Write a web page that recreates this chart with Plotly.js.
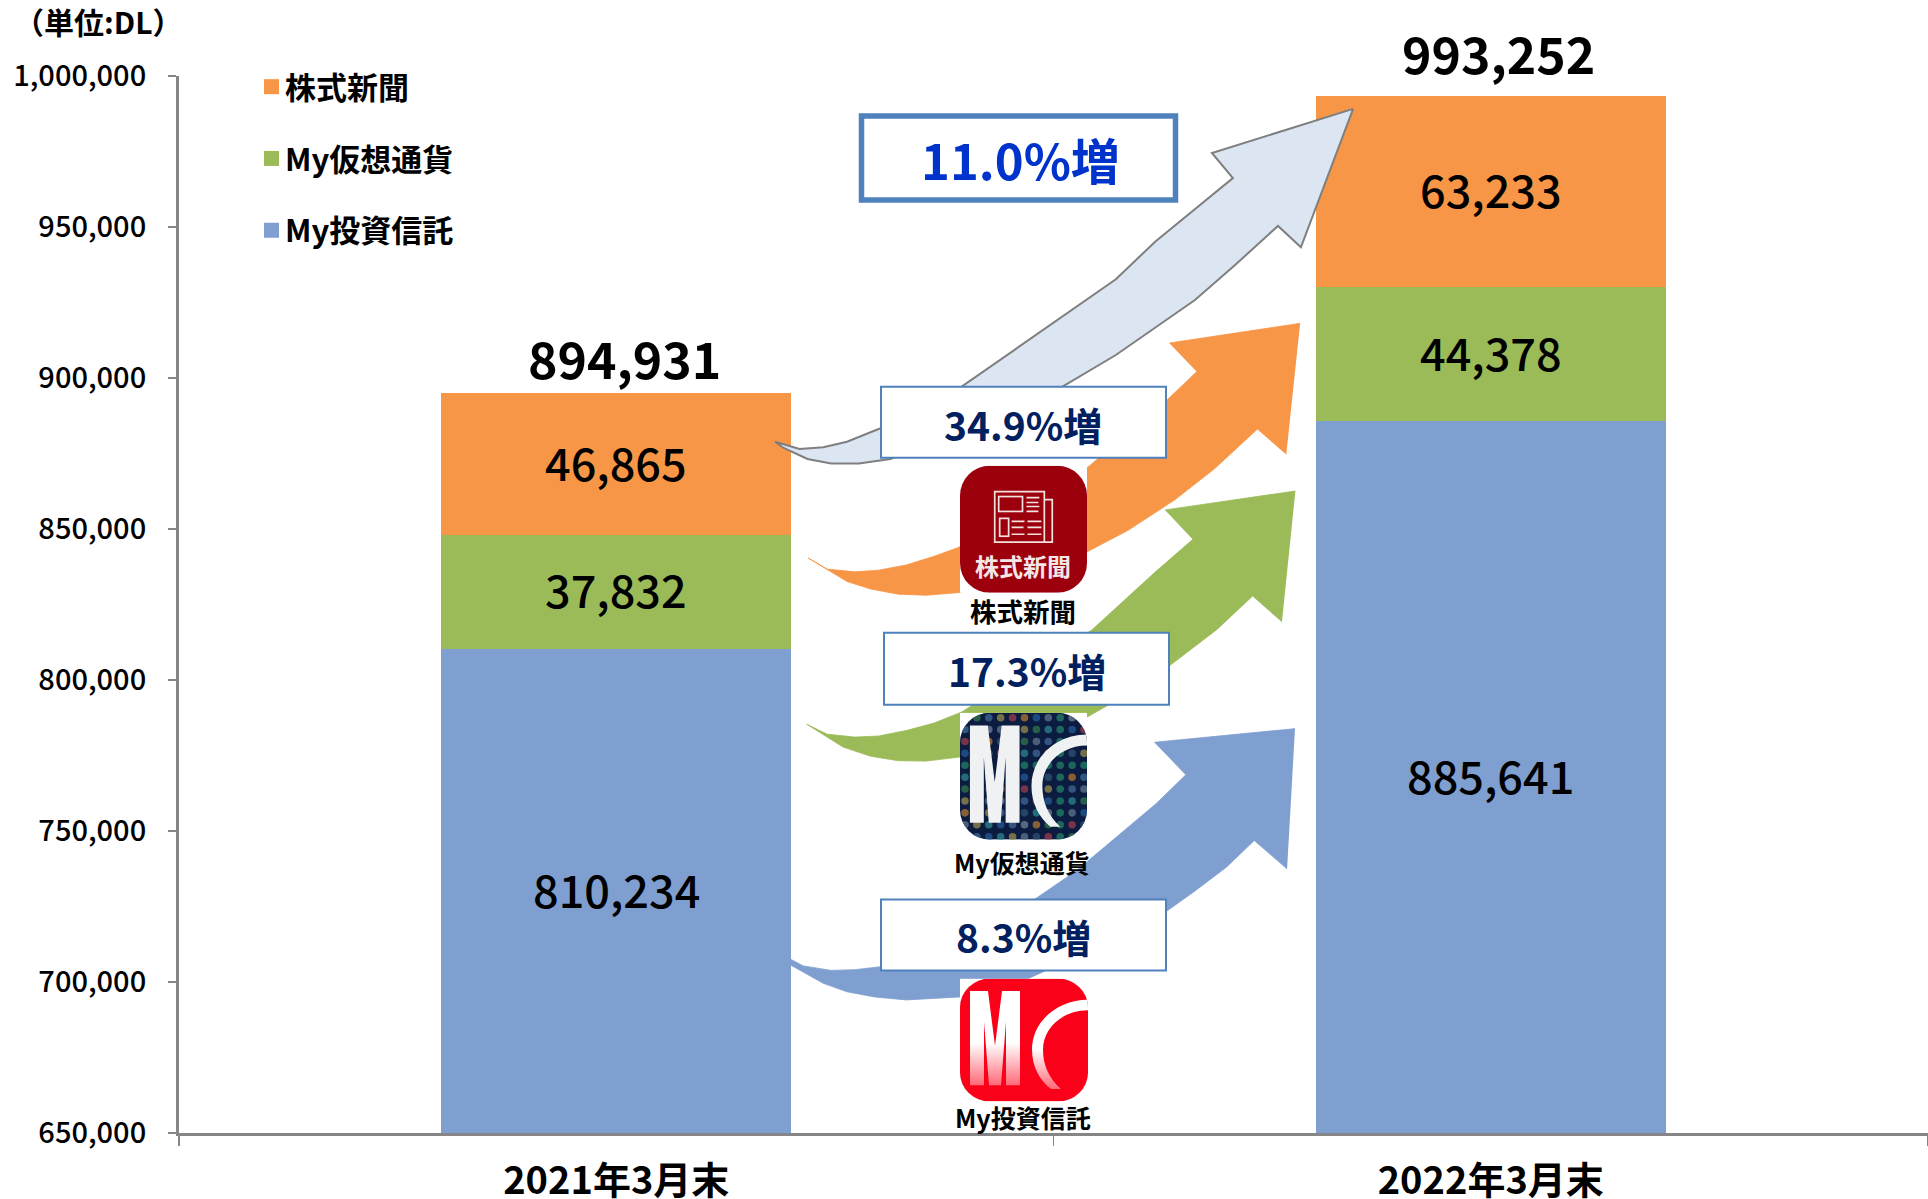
<!DOCTYPE html>
<html><head><meta charset="utf-8">
<script src="https://cdn.plot.ly/plotly-3.0.1.min.js"></script>
<style>html,body{margin:0;padding:0;background:#fff}#c{width:1928px;height:1199px}</style>
</head><body><div id="c"></div>
<script>
const categories = ['2021年3月末', '2022年3月末'];
const investTrust = [810234, 885641];
const cryptoApp = [37832, 44378];
const stockNews = [46865, 63233];
const totals = [894931, 993252];
const seriesNames = ['My投資信託', 'My仮想通貨', '株式新聞'];
const seriesColors = ['#7f9fd0', '#9bbb59', '#f79646'];
const yTicks = [650000, 700000, 750000, 800000, 850000, 900000, 950000, 1000000];
const growthLabels = ['11.0%増', '34.9%増', '17.3%増', '8.3%増'];
const appLabels = ['株式新聞', 'My仮想通貨', 'My投資信託'];

const W = 1928, H = 1199, L = 179, T = 76, B = 1133.5;
const AXIS_MIN = yTicks[0];
const FONT = "'Noto Sans CJK JP','Noto Sans CJK SC',sans-serif";
const fmt = v => v.toLocaleString('en-US');
const px = x => (x - L) / (W - L);
const py = y => (B - y) / (B - T);
const Z2 = ([x, y]) => [760 + x / 2.529, 90 + y / 2.904];
const Z3 = ([x, y]) => [760 + x / 2.529, 620 + y / 2.708];

const arrowLight = [[1500,55],[1143,183],[1196,256],[1100,345],[1000,440],[900,550],[750,670],[600,790],[510,862],[300,985],[220,1022],[160,1038],[100,1043],[38,1022],[60,1040],[120,1072],[180,1085],[250,1085],[330,1072],[765,862],[900,770],[1000,690],[1100,610],[1200,510],[1310,395],[1368,457],[1500,55]].map(Z2);
const arrowOrange = [[1366,678],[1036,735],[1105,818],[1030,900],[830,1095],[500,1330],[440,1355],[370,1380],[300,1395],[240,1400],[170,1392],[122,1360],[220,1428],[280,1450],[350,1465],[420,1468],[505,1460],[830,1340],[930,1280],[1050,1190],[1150,1100],[1258,985],[1331,1058]].map(Z2);
const arrowGreen = [[1354,1165],[1025,1220],[1095,1305],[1000,1400],[840,1568]].map(Z2)
  .concat([[510,250],[440,280],[370,300],[300,315],[240,318],[170,310],[118,283],[210,345],[280,370],[350,382],[420,383],[505,372],[830,262],[880,232],[1035,125]].map(Z3))
  .concat([[1155,1568],[1246,1470],[1320,1545]].map(Z2));
const arrowBlue = [[1353,295],[998,332],[1077,420],[1000,500],[900,590],[800,680],[695,757],[305,940],[240,948],[180,950],[110,938],[60,910],[60,925],[160,985],[220,1008],[290,1022],[370,1030],[505,1022],[620,1000],[720,952],[1028,790],[1100,735],[1180,670],[1250,598],[1333,675]].map(Z3);

function arrowTrace(pts, fill, line) {
  return {type:'scatter', xaxis:'x2', yaxis:'y2', mode:'lines', x:pts.map(p=>p[0]), y:pts.map(p=>p[1]),
    fill:'toself', fillcolor:fill, line:{color:line||fill, width:line?2:0.8}, hoverinfo:'skip', showlegend:false};
}
function barTrace(i, vals) {
  return {type:'bar', name:seriesNames[i], x:categories, y:vals, legendgroup:seriesNames[i], legendrank:3-i,
    marker:{color:seriesColors[i], line:{width:0}}, hoverinfo:'skip'};
}
const data = [barTrace(0,investTrust), barTrace(1,cryptoApp), barTrace(2,stockNews),
  arrowTrace(arrowLight,'#dce6f2','#7f7f7f'), arrowTrace(arrowOrange,'#f79646'), arrowTrace(arrowGreen,'#9bbb59'), arrowTrace(arrowBlue,'#7f9fd0')];

function note(text, x, y, size, color, opts) {
  return Object.assign({xref:'paper', yref:'paper', x:px(x), y:py(y), text, showarrow:false, xanchor:'center', yanchor:'middle',
    font:{family:FONT, size, color, weight:700}}, opts||{});
}
const annotations = [
  note('（単位:DL）', 98, 21, 30, '#000'),
  note(growthLabels[0], 1020, 158.5, 49, '#0033cc'),
  note(growthLabels[1], 1023, 424.5, 39, '#002060'),
  note(growthLabels[2], 1027, 670.5, 39, '#002060'),
  note(growthLabels[3], 1023, 936.5, 39, '#002060'),
  note(appLabels[0], 1023, 610.5, 26.5, '#000'),
  note(appLabels[1], 1022, 862, 25, '#000'),
  note(appLabels[2], 1023, 1117, 25, '#000'),
  note('株式新聞', 1023, 566, 24, '#f4e6e6'),
];
const totalShift = [-2, 6.5];
totals.forEach((v,i)=>annotations.push({xref:'x', yref:'y', x:categories[i], y:v, text:fmt(v), showarrow:false, xanchor:'center', yanchor:'bottom', xshift:8, yshift:totalShift[i],
  font:{family:FONT, size:50, color:'#000', weight:700}}));
// value labels sit at the middle of the visible part of each stacked segment
categories.forEach((c,i)=>{
  let base = AXIS_MIN;
  [investTrust, cryptoApp, stockNews].forEach((vals,s)=>{
    const top = s===0 ? vals[i] : base + vals[i];
    annotations.push({xref:'x', yref:'y', x:c, y:(base+top)/2, text:fmt(vals[i]), showarrow:false, xanchor:'center', yanchor:'middle', yshift:3,
      font:{family:FONT, size:45, color:'#000', weight:500}});
    base = top;
  });
});

function box(x0,y0,x1,y1,w){
  return {type:'rect', xref:'paper', yref:'paper', x0:px(x0), x1:px(x1), y0:py(y0), y1:py(y1), fillcolor:'#fff', line:{color:'#4f81bd', width:w}, layer:'above'};
}
const shapes = [box(861.5,116,1175.5,200,5.5), box(881,387,1166,458,2), box(884,633,1169,705,2), box(881,900,1166,971,2)];

function svgUri(s){ return 'data:image/svg+xml;charset=utf-8,' + encodeURIComponent(s); }
const mPath = 'M10,13H28L35,70L42,13H60V111H46V45L41,111H29L24,45V111H10Z';
const cPath = 'M128,22C98,22 72,44 72,74C72,92 80,106 91,115L101,115C89,104 83,90 83,74C83,52 102,33 128,33Z';
function frame(inner){
  return `<svg xmlns="http://www.w3.org/2000/svg" width="256" height="256" viewBox="0 0 128 128"><rect width="128" height="128" fill="#fff"/>${inner}</svg>`;
}
const newsIcon = frame(`<rect width="128" height="128" rx="30" fill="#9c000d"/>
<g fill="none" stroke="#f3e3e0" stroke-width="1.7"><path d="M35,26H85V77H35ZM85,34H93V77H85"/><rect x="39" y="31" width="24" height="15"/><rect x="40" y="53" width="9" height="18"/>
<path d="M67,32H80M67,37H79M67,41H80M67,46H79M52,56H65M52,62H64M52,69H65M68,56H82M68,62H82M68,69H82"/></g>`);
const dotColors = ['#2c4f6e','#1f7a62','#a8702f','#3f6390','#2b8088','#5a6f88','#96384a','#2e6f4a','#6a7a90','#1f5590','#8f8448'];
let dots = '';
for (let r=0;r<11;r++) for (let c=0;c<11;c++) {
  dots += `<circle cx="${5+c*12}" cy="${5+r*12}" r="3.8" fill="${dotColors[(r*3+c*7+r*c)%dotColors.length]}" opacity="0.8"/>`;
}
const cryptoIcon = frame(`<defs><clipPath id="k"><rect width="128" height="128" rx="30"/></clipPath></defs><g clip-path="url(#k)"><rect width="128" height="128" fill="#0b1c40"/>${dots}
<path d="${mPath}" fill="#f0f1f2"/><path d="${cPath}" fill="#f0f1f2"/></g>`);
const fundIcon = frame(`<defs><clipPath id="r"><rect width="128" height="128" rx="30"/></clipPath>
<linearGradient id="g" x1="0" y1="0" x2="0" y2="1"><stop offset="0" stop-color="#fff"/><stop offset="0.55" stop-color="#fff"/><stop offset="1" stop-color="#ff6a78"/></linearGradient></defs>
<g clip-path="url(#r)"><rect width="128" height="128" fill="#fb0019"/><path d="${mPath}" fill="url(#g)"/><path d="${cPath}" fill="url(#g)"/></g>`);
function img(src,x0,y0,x1,y1){
  return {source:svgUri(src), xref:'paper', yref:'paper', x:px(x0), y:py(y0), sizex:px(x1)-px(x0), sizey:py(y0)-py(y1), xanchor:'left', yanchor:'top', sizing:'stretch', layer:'above'};
}
const images = [img(newsIcon,960,466,1087,593), img(cryptoIcon,960,713,1087,840), img(fundIcon,960,979,1088,1102)];

const layout = {
  width:W, height:H, paper_bgcolor:'#fff', plot_bgcolor:'#fff',
  margin:{l:L, r:0, t:T, b:H-B, pad:0, autoexpand:false},
  barmode:'stack', bargap:0.6, hovermode:false, font:{family:FONT, color:'#000'},
  xaxis:{type:'category', categoryorder:'array', categoryarray:categories, tickson:'boundaries', ticks:'outside', ticklen:10, tickwidth:1.5, tickcolor:'#868686',
    showline:true, linecolor:'#868686', linewidth:3, showgrid:false, zeroline:false, tickfont:{family:FONT, size:38, color:'#000', weight:700}, ticklabelstandoff:12},
  yaxis:{range:[AXIS_MIN,1000000], tickmode:'array', tickvals:yTicks, ticktext:yTicks.map(fmt), ticks:'outside', ticklen:8, tickwidth:1.5, tickcolor:'#868686',
    showline:true, linecolor:'#868686', linewidth:3, showgrid:false, zeroline:false, tickfont:{family:FONT, size:29, color:'#000', weight:500}, ticklabelstandoff:16},
  xaxis2:{overlaying:'x', range:[L,W], visible:false, fixedrange:true},
  yaxis2:{overlaying:'y', range:[B,T], visible:false, fixedrange:true},
  showlegend:true,
  legend:{x:px(245), y:py(60), xanchor:'left', yanchor:'top', traceorder:'grouped', tracegroupgap:28.5, bgcolor:'rgba(0,0,0,0)', borderwidth:0,
    font:{family:FONT, size:31, color:'#000', weight:700}},
  annotations, shapes, images
};
Plotly.newPlot('c', data, layout, {displayModeBar:false, staticPlot:true}).then(()=>{
  document.querySelectorAll('.legend .legendpoints path').forEach(p=>p.setAttribute('transform','translate(26.5,0) scale(1.25)'));
});
</script></body></html>
